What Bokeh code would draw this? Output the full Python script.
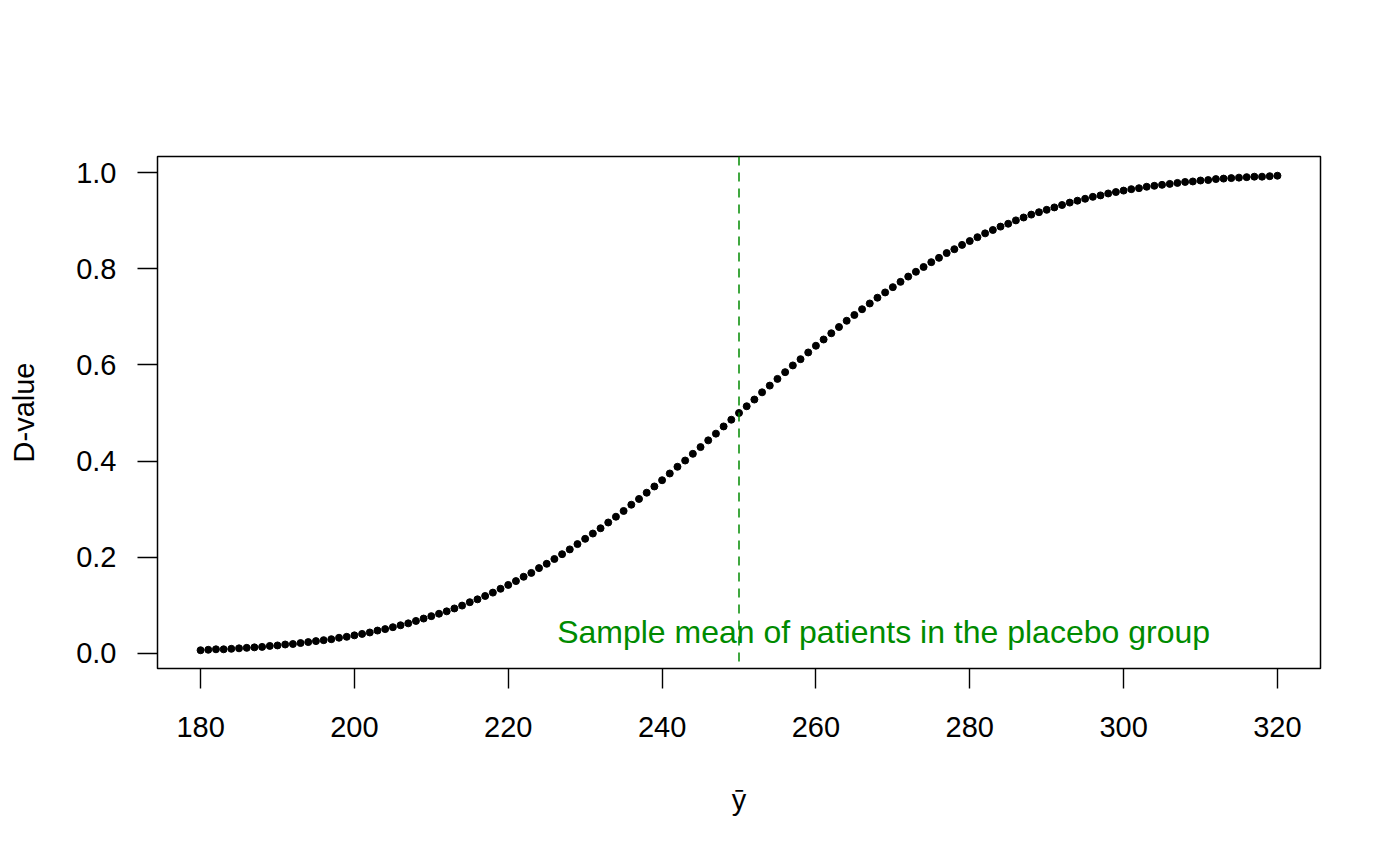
from bokeh.plotting import figure
from bokeh.models import Range1d, FixedTicker, Span, CustomJSTickFormatter
from bokeh.core.properties import value
from bokeh.embed import file_html
from bokeh.resources import INLINE

# sample mean grid on the x axis
y_bar = list(range(180, 321))

# D-value, one per y_bar
d_value = [
    0.006, 0.007, 0.008, 0.008, 0.009, 0.010, 0.011, 0.012, 0.013, 0.015,
    0.016, 0.018, 0.019, 0.021, 0.023, 0.025, 0.027, 0.029, 0.032, 0.034,
    0.037, 0.040, 0.043, 0.047, 0.050, 0.054, 0.058, 0.062, 0.067, 0.072,
    0.077, 0.082, 0.087, 0.093, 0.099, 0.106, 0.112, 0.119, 0.126, 0.134,
    0.142, 0.150, 0.159, 0.167, 0.177, 0.186, 0.196, 0.206, 0.216, 0.227,
    0.238, 0.249, 0.260, 0.272, 0.284, 0.296, 0.309, 0.321, 0.334, 0.347,
    0.360, 0.374, 0.388, 0.401, 0.415, 0.429, 0.443, 0.457, 0.472, 0.486,
    0.500, 0.514, 0.528, 0.543, 0.557, 0.571, 0.585, 0.599, 0.612, 0.626,
    0.640, 0.653, 0.666, 0.679, 0.692, 0.704, 0.716, 0.728, 0.740, 0.751,
    0.762, 0.773, 0.784, 0.794, 0.804, 0.814, 0.823, 0.833, 0.841, 0.850,
    0.858, 0.866, 0.874, 0.881, 0.888, 0.894, 0.901, 0.907, 0.913, 0.918,
    0.923, 0.928, 0.933, 0.938, 0.942, 0.946, 0.950, 0.953, 0.957, 0.960,
    0.963, 0.966, 0.968, 0.971, 0.973, 0.975, 0.977, 0.979, 0.981, 0.982,
    0.984, 0.985, 0.987, 0.988, 0.989, 0.990, 0.991, 0.992, 0.992, 0.993,
    0.994,
]

x_ticks = [180, 200, 220, 240, 260, 280, 300, 320]
y_ticks = [0.0, 0.2, 0.4, 0.6, 0.8, 1.0]

placebo_mean = 250
note_text = "Sample mean of patients in the placebo group"
note_x = 268.8
note_y = 0.044

FONT = "Liberation Sans"
GREEN = "#008B00"

p = figure(
    width=1400,
    height=865,
    x_range=Range1d(174.4, 325.6),
    y_range=Range1d(-0.032, 1.034),
    min_border_left=157,
    min_border_right=80,
    min_border_top=156,
    min_border_bottom=197,
    x_axis_label="\u0233",
    y_axis_label="D-value",
    toolbar_location=None,
    output_backend="svg",
)

p.grid.visible = False
p.outline_line_color = "black"
p.outline_line_width = 1.5
p.background_fill_color = "white"
p.border_fill_color = "white"

for ax in (p.xaxis[0], p.yaxis[0]):
    ax.axis_line_color = None
    ax.major_tick_in = 0
    ax.major_tick_out = 20
    ax.major_tick_line_color = "black"
    ax.major_tick_line_width = 1.4
    ax.minor_tick_line_color = None
    ax.major_label_text_font = FONT
    ax.major_label_text_font_size = "29px"
    ax.major_label_text_color = "black"
    ax.axis_label_text_font = FONT
    ax.axis_label_text_font_size = "29px"
    ax.axis_label_text_font_style = "normal"
    ax.axis_label_text_color = "black"

p.xaxis.ticker = FixedTicker(ticks=x_ticks)
p.yaxis.ticker = FixedTicker(ticks=y_ticks)
p.yaxis.formatter = CustomJSTickFormatter(code="return tick.toFixed(1);")
p.xaxis.major_label_standoff = 28
p.yaxis.major_label_standoff = 21
p.xaxis.axis_label_standoff = 44
p.yaxis.axis_label_standoff = 33

p.scatter(x=y_bar, y=d_value, size=7, color="black", line_color="black")

p.add_layout(Span(location=placebo_mean, dimension="height", line_color=GREEN,
                  line_width=1.5, line_dash="9 7"))

p.text(x=[note_x], y=[note_y], text=[note_text], text_color=GREEN,
       text_font=value(FONT), text_font_size="32px",
       text_align="center", text_baseline="alphabetic")

open("out.html", "w").write(file_html(p, INLINE))
